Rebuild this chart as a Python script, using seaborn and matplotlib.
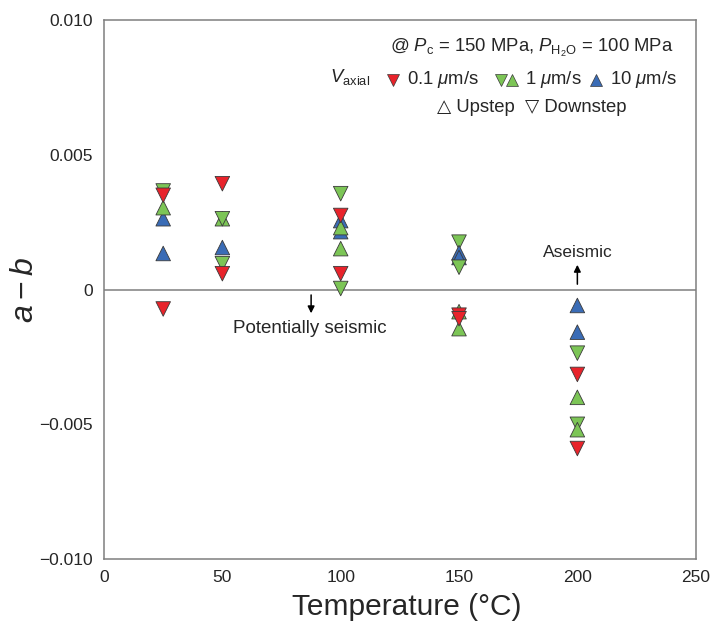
import numpy as np
import pandas as pd
import matplotlib
matplotlib.use('Agg')
import matplotlib.pyplot as plt
import seaborn as sns
from matplotlib.offsetbox import TextArea, HPacker, VPacker, AnchoredOffsetbox, DrawingArea
from matplotlib.lines import Line2D
from matplotlib.ticker import FixedLocator, FuncFormatter

# data (a - b values in units of 1e-3)
temps = [25, 25, 25, 25, 25, 25,
         50, 50, 50, 50, 50, 50,
         100, 100, 100, 100, 100, 100, 100, 100,
         150, 150, 150, 150, 150, 150, 150, 150,
         200, 200, 200, 200, 200, 200, 200, 200]
ab_values = [1.34, 2.63, 3.04, 3.66, 3.50, -0.72,
             2.63, 2.63, 1.56, 0.96, 0.59, 3.93,
             3.56, 2.15, 2.56, 2.30, 2.75, 1.52, 0.59, 0.04,
             1.76, 1.37, 1.19, 0.83, -0.82, -1.45, -0.95, -1.08,
             -0.59, -1.58, -2.36, -3.15, -4.00, -5.00, -5.20, -5.90]
rates = ['10', '10', '1', '1', '0.1', '0.1',
         '1', '1', '10', '1', '0.1', '0.1',
         '1', '10', '10', '1', '0.1', '1', '0.1', '1',
         '1', '10', '10', '1', '1', '1', '0.1', '0.1',
         '10', '10', '1', '0.1', '1', '1', '1', '0.1']
steps = ['up', 'up', 'up', 'down', 'down', 'down',
         'up', 'down', 'up', 'down', 'down', 'down',
         'down', 'up', 'up', 'up', 'down', 'up', 'down', 'down',
         'down', 'up', 'up', 'down', 'up', 'up', 'down', 'down',
         'up', 'up', 'down', 'down', 'up', 'down', 'up', 'down']

x_ticks = [0, 50, 100, 150, 200, 250]
y_ticks = [-0.010, -0.005, 0, 0.005, 0.010]

colors = {'0.1': '#e8232b', '1': '#7cc556', '10': '#3a6cb6'}
markers = {'up': '^', 'down': 'v'}
edge = '#3a3a3a'
spine_col = '#7f7f7f'

df = pd.DataFrame({'T': temps, 'ab': np.array(ab_values) * 1e-3,
                   'rate': rates, 'step': steps})

sns.set_style('white')
plt.rcParams['font.family'] = ['Liberation Sans', 'DejaVu Sans']
plt.rcParams['mathtext.fontset'] = 'custom'
plt.rcParams['mathtext.rm'] = 'Liberation Sans'
plt.rcParams['mathtext.it'] = 'Liberation Sans:italic'
plt.rcParams['axes.unicode_minus'] = True

fig = plt.figure(figsize=(7.15, 6.3), dpi=100)
ax = fig.add_axes([0.1455, 0.1127, 0.8275, 0.8553])

ax.axhline(0, color=spine_col, lw=1.1, zorder=1)

sns.scatterplot(data=df, x='T', y='ab', hue='rate', style='step',
                palette=colors, markers=markers, s=110,
                edgecolor=edge, linewidth=0.6, legend=False, ax=ax, zorder=3)

ax.set_xlim(0, 250)
ax.set_ylim(-0.010, 0.010)
ax.xaxis.set_major_locator(FixedLocator(x_ticks))
ax.yaxis.set_major_locator(FixedLocator(y_ticks))


def yfmt(v, pos):
    if abs(v) < 1e-12:
        return '0'
    s = f'{v:.3f}'
    return s.replace('-', '\u2212')


ax.yaxis.set_major_formatter(FuncFormatter(yfmt))
ax.tick_params(direction='in', length=5, width=1, color=spine_col,
               labelsize=12.5, top=False, right=False)
ax.tick_params(axis='y', pad=8)
ax.tick_params(axis='x', pad=8)
for sp in ax.spines.values():
    sp.set_color(spine_col)
    sp.set_linewidth(1.1)

ax.set_xlabel('Temperature (\u00b0C)', fontsize=21.5)
ax.xaxis.set_label_coords(0.512, -0.064)
ax.set_ylabel('$a - b$', fontsize=23)
ax.yaxis.set_label_coords(-0.108, 0.5)

# annotations
ax.annotate('', xy=(87.5, -0.00088), xytext=(87.5, -0.0002),
            arrowprops=dict(arrowstyle='-|>', color='black', lw=1.1,
                            mutation_scale=10, shrinkA=0, shrinkB=0))
ax.text(87, -0.00145, 'Potentially seismic', fontsize=13.5,
        ha='center', va='center')
ax.annotate('', xy=(200, 0.00092), xytext=(200, 0.0002),
            arrowprops=dict(arrowstyle='-|>', color='black', lw=1.1,
                            mutation_scale=10, shrinkA=0, shrinkB=0))
ax.text(200, 0.00138, 'Aseismic', fontsize=12.5, ha='center', va='center')

# legend block
tp = dict(fontsize=13.3)


def mbox(specs, w=9, h=10):
    da = DrawingArea(w * len(specs), h, 0, 0)
    for i, (m, c) in enumerate(specs):
        da.add_artist(Line2D([w * i + w / 2], [h / 2 - 0.5], marker=m, markersize=8.5,
                             markerfacecolor=c, markeredgecolor=edge,
                             markeredgewidth=0.5, linestyle='none'))
    return da


line1 = TextArea('@ $P_\\mathrm{c}$ = 150 MPa, $P_{\\mathrm{H_2O}}$ = 100 MPa', textprops=tp)
line2 = HPacker(children=[
    mbox([('v', colors['0.1'])]),
    TextArea('0.1 $\\mu$m/s', textprops=tp),
    DrawingArea(1, 1),
    mbox([('v', colors['1']), ('^', colors['1'])], w=8),
    TextArea('1 $\\mu$m/s', textprops=tp),
    mbox([('^', colors['10'])]),
    TextArea('10 $\\mu$m/s', textprops=tp),
], align='center', pad=0, sep=5.5)
line3 = TextArea('\u25b3 Upstep  \u25bd Downstep', textprops=tp)

block = VPacker(children=[line1, line2, line3], align='center', pad=0, sep=7)
anch = AnchoredOffsetbox(loc='upper center', child=block, pad=0, borderpad=0,
                         frameon=False, bbox_to_anchor=(0.723, 0.969),
                         bbox_transform=ax.transAxes)
ax.add_artist(anch)
ax.text(0.449, 0.894, '$V_\\mathrm{axial}$', fontsize=13.3, ha='right', va='center',
        transform=ax.transAxes)

fig.savefig('out.png', dpi=100, facecolor='white')
